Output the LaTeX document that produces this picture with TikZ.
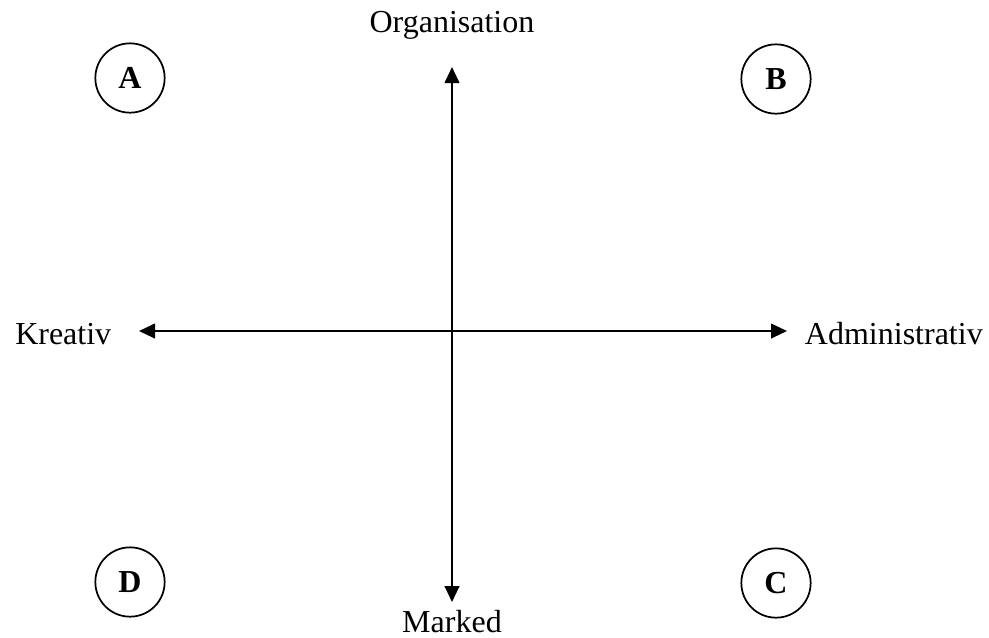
\documentclass[tikz,border=0pt]{standalone}
\usepackage{fontspec}
\setmainfont{Liberation Serif}
\usetikzlibrary{arrows.meta}

\tikzset{
	quad/.style={draw, circle, line width=1.3pt, minimum size=52pt, inner sep=0pt,
		font=\fontsize{24}{28}\selectfont\bfseries},
	axis/.style={line width=1.5pt,
		{Triangle[length=12pt,width=11pt]}-{Triangle[length=12pt,width=11pt]}},
	lbl/.style={inner sep=0pt, font=\fontsize{24}{28}\selectfont}
}

\begin{document}
\begin{tikzpicture}[x=0.75pt,y=-0.75pt]
	\useasboundingbox (0,0) rectangle (989,637);

	% axis ends
	\coordinate (top) at (452,67);
	\coordinate (bottom) at (452,602);
	\coordinate (left) at (139,331);
	\coordinate (right) at (787,331);

	\draw[axis] (top) -- (bottom);
	\draw[axis] (left) -- (right);

	\node[lbl, anchor=base] (org) at (452,32) {Organisation};
	\node[lbl, anchor=base] (mark) at (452,632) {Marked};
	\node[lbl, anchor=base west] (krea) at (15,344) {Kreativ};
	\node[lbl, anchor=base east] (adm) at (983,344) {Administrativ};

	% quadrants
	\node[quad] (A) at (130,78) {A};
	\node[quad] (B) at (776,79) {B};
	\node[quad] (C) at (776,583) {C};
	\node[quad] (D) at (130,582) {D};

\end{tikzpicture}
\end{document}
